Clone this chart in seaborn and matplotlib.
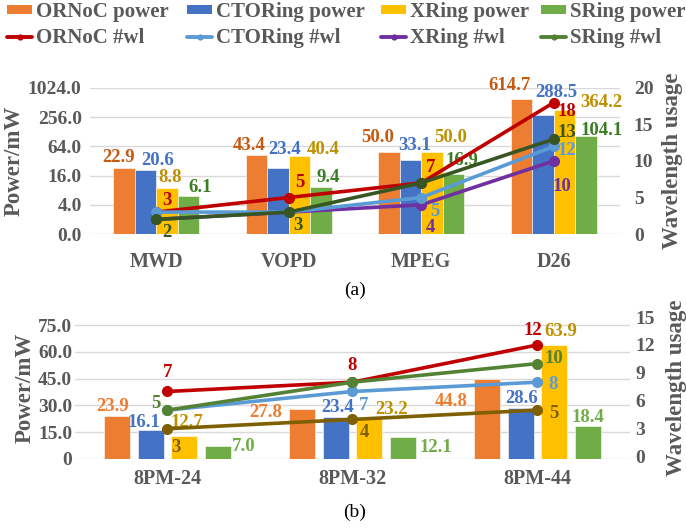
import numpy as np
import pandas as pd
import matplotlib
matplotlib.use("Agg")
import matplotlib.pyplot as plt
from matplotlib.patches import Patch
from matplotlib.lines import Line2D
import seaborn as sns

# ---- data ----
series = ["ORNoC", "CTORing", "XRing", "SRing"]

cats_a = ["MWD", "VOPD", "MPEG", "D26"]
power_a = {
    "ORNoC": [22.9, 43.4, 50.0, 614.7],
    "CTORing": [20.6, 23.4, 33.1, 288.5],
    "XRing": [8.8, 40.4, 50.0, 364.2],
    "SRing": [6.1, 9.4, 16.9, 104.1],
}
wl_a = {
    "ORNoC": [3, 5, 7, 18],
    "CTORing": [3, 3, 5, 12],
    "XRing": [2, 3, 4, 10],
    "SRing": [2, 3, 7, 13],
}

cats_b = ["8PM-24", "8PM-32", "8PM-44"]
power_b = {
    "ORNoC": [23.9, 27.8, 44.8],
    "CTORing": [16.1, 23.4, 28.6],
    "XRing": [12.7, 23.2, 63.9],
    "SRing": [7.0, 12.1, 18.4],
}
wl_b = {
    "ORNoC": [7, 8, 12],
    "CTORing": [5, 7, 8],
    "XRing": [3, 4, 5],
    "SRing": [5, 8, 10],
}

yticks_a = [1, 4, 16, 64, 256, 1024]
yticklabels_a = ["0.0", "4.0", "16.0", "64.0", "256.0", "1024.0"]
yticks_b = [0, 15, 30, 45, 60, 75]
yticklabels_b = ["0", "15.0", "30.0", "45.0", "60.0", "75.0"]

# ---- styles ----
bar_colors = {"ORNoC": "#ED7D31", "CTORing": "#4472C4", "XRing": "#FFC000", "SRing": "#70AD47"}
bar_txt_a = {"ORNoC": "#C55A11", "CTORing": "#4472C4", "XRing": "#BF9000", "SRing": "#3B7D23"}
bar_txt_b = {"ORNoC": "#ED7D31", "CTORing": "#4472C4", "XRing": "#BF9000", "SRing": "#70AD47"}
line_a = {"ORNoC": "#C00000", "CTORing": "#5B9BD5", "XRing": "#7030A0", "SRing": "#375623"}
line_b = {"ORNoC": "#C00000", "CTORing": "#5B9BD5", "XRing": "#7F6000", "SRing": "#548235"}
legend_line = {"ORNoC": "#C00000", "CTORing": "#5B9BD5", "XRing": "#7030A0", "SRing": "#548235"}
legend_x = [7, 187, 381, 541]  # left edge of each legend column, px

# label offsets in pixels (dx, dy) from bar top / marker; None = no label
bar_off_a = {
    "ORNoC": [(-5, 11), (-7, 9), (-11, 14), (-12, 13)],
    "CTORing": [(12, 10), (7, 18), (4, 15), (13, 22)],
    "XRing": [(3, 11), (24, 7), (19, 14), (37, 7)],
    "SRing": [(12, 8), (7, 9), (8, 14), (16, 6)],
}
wl_off_a = {
    "ORNoC": [(11, 12), (11, 15), (9, 15), (13, -9)],
    "CTORing": [None, None, (14, -14), (13, -4)],
    "XRing": [None, None, (9, -23), (8, -26)],
    "SRing": [(11, -13), (9, -13), None, (13, 7)],
}
bar_off_b = {
    "ORNoC": [(-5, 10), (-36, -3), (-36, -23)],
    "CTORing": [(-7, 8), (2, 10), (1, 9)],
    "XRing": [(3, 14), (22, 8), (7, 13)],
    "SRing": [(26, 0), (33, -10), (0, 9)],
}
wl_off_b = {
    "ORNoC": [(0, 19), (0, 17), (-5, 14)],
    "CTORing": [None, (11, -14), (16, -2)],
    "XRing": [(8, -19), (12, -13), (16, -3)],
    "SRing": [(-12, 7), None, (16, 5)],
}

sns.set_style("white")
plt.rcParams["font.family"] = ["Liberation Serif", "DejaVu Serif"]
plt.rcParams["font.weight"] = "bold"

GREY = "#595959"
GRID = "#D9D9D9"
LBL = 13.5

fig = plt.figure(figsize=(6.86, 5.31), dpi=100)
ax_a = fig.add_axes([0.1312, 0.5593, 0.7726, 0.2750])
ax_b = fig.add_axes([0.1093, 0.1356, 0.8090, 0.2674])


def long_df(cats, power):
    rows = []
    for s in series:
        for c, v in zip(cats, power[s]):
            rows.append({"cat": c, "series": s, "value": v})
    return pd.DataFrame(rows)


def style_axes(ax, ax2):
    for a in (ax, ax2):
        for sp in a.spines.values():
            sp.set_visible(False)
        a.tick_params(length=0, colors=GREY)
    ax.yaxis.grid(True, color=GRID, lw=1)
    ax.set_axisbelow(True)
    ax.xaxis.grid(False)
    ax2.grid(False)


def draw(ax, cats, power, wl, width, gap, txt_cols, lcols, boff, woff, order):
    df = long_df(cats, power)
    sns.barplot(data=df, x="cat", y="value", hue="series", hue_order=series,
                palette=bar_colors, width=width, gap=gap, saturation=1,
                edgecolor="white", linewidth=0.4, legend=False, ax=ax)
    ax2 = ax.twinx()
    xs = np.arange(len(cats))
    for s in order:
        sns.lineplot(x=xs, y=wl[s], ax=ax2, color=lcols[s], lw=2.6,
                     marker="o", markersize=8, markeredgewidth=0)
    ax.set_xlim(-0.5, len(cats) - 0.5)
    slot = width / 4
    # bar labels
    for i, s in enumerate(series):
        for j, v in enumerate(power[s]):
            off = boff[s][j]
            x = j + (i - 1.5) * slot
            ax.annotate(f"{v:.1f}", (x, v), xytext=off, textcoords="offset pixels",
                        ha="center", va="center", color=txt_cols[s],
                        fontsize=LBL, fontweight="bold")
    for s in series:
        for j, v in enumerate(wl[s]):
            off = woff[s][j]
            if off is None:
                continue
            ax2.annotate(f"{v}", (j, v), xytext=off, textcoords="offset pixels",
                         ha="center", va="center", color=lcols[s],
                         fontsize=LBL, fontweight="bold")
    return ax2


# ---- (a) ----
ax2_a = draw(ax_a, cats_a, power_a, wl_a, 0.65, 0, bar_txt_a, line_a,
             bar_off_a, wl_off_a, ["ORNoC", "XRing", "CTORing", "SRing"])
ax_a.set_yscale("log", base=4)
ax_a.set_ylim(1, 1024)
ax_a.set_yticks(yticks_a)
ax_a.set_yticklabels(yticklabels_a)
ax_a.minorticks_off()
ax2_a.set_ylim(0, 20)
ax2_a.set_yticks([0, 5, 10, 15, 20])
style_axes(ax_a, ax2_a)

# ---- (b) ----
ax2_b = draw(ax_b, cats_b, power_b, wl_b, 0.725, 0.227, bar_txt_b, line_b,
             bar_off_b, wl_off_b, ["ORNoC", "CTORing", "SRing", "XRing"])
ax_b.set_ylim(0, 79.5)
ax_b.set_yticks(yticks_b)
ax_b.set_yticklabels(yticklabels_b)
ax2_b.set_ylim(-0.25, 15)
ax2_b.set_yticks([0, 3, 6, 9, 12, 15])
style_axes(ax_b, ax2_b)

for ax, ax2, pad_l, pad_r, pad_x, lp in ((ax_a, ax2_a, 6, 10, 13, 6),
                                          (ax_b, ax2_b, 2, 4, 7, 8)):
    ax.set_xlabel("")
    ax.set_ylabel("Power/mW", fontsize=16.5, color=GREY, fontweight="bold", labelpad=2)
    ax2.set_ylabel("Wavelength usage", fontsize=16.5, color=GREY, fontweight="bold",
                   labelpad=lp)
    ax.tick_params(axis="y", labelsize=14, pad=pad_l)
    ax2.tick_params(axis="y", labelsize=14, pad=pad_r)
    ax.tick_params(axis="x", labelsize=14.5, pad=pad_x)
    for t in ax.get_xticklabels() + ax.get_yticklabels() + ax2.get_yticklabels():
        t.set_fontweight("bold")
        t.set_color(GREY)

fig.text(0.517, 1 - 290 / 531, "(a)", ha="center", va="center", fontsize=14,
         fontweight="normal", color="black")
fig.text(0.517, 1 - 512 / 531, "(b)", ha="center", va="center", fontsize=14,
         fontweight="normal", color="black")

# ---- legend: one column per series ----
for s, lx in zip(series, legend_x):
    handles = [Patch(facecolor=bar_colors[s], edgecolor="none"),
               Line2D([0], [0], color=legend_line[s], lw=2.8, marker="o",
                      markersize=4.5, markeredgewidth=0)]
    labels = [f"{s} power", f"{s} #wl"]
    leg = fig.legend(handles, labels, ncol=1, loc="upper left",
                     bbox_to_anchor=(lx / 686, 1 - 2 / 531),
                     frameon=False, fontsize=15, handlelength=1.2, handleheight=0.35,
                     handletextpad=0.2, labelspacing=0.3,
                     borderpad=0, borderaxespad=0)
    for t in leg.get_texts():
        t.set_color(GREY)
        t.set_fontweight("bold")

fig.savefig("out.png", dpi=100)
